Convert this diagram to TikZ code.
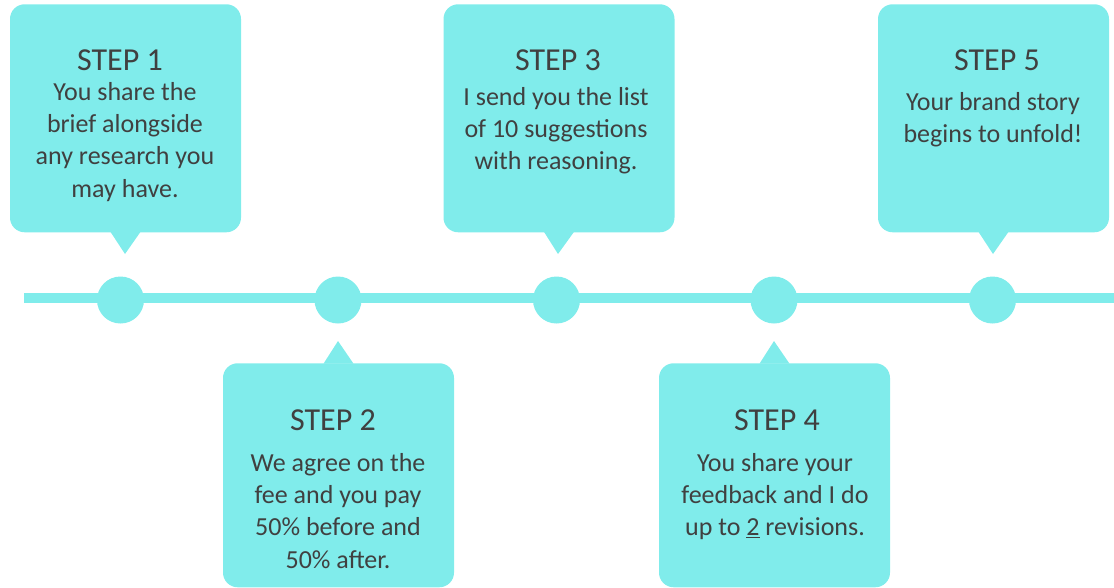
\documentclass[tikz,border=0pt]{standalone}
\usepackage{fontspec}
\setmainfont{Carlito}
\definecolor{aqua}{RGB}{128,236,235}
\definecolor{txt}{RGB}{64,64,64}
\tikzset{
  callout/.style={fill=aqua, rounded corners=11pt, minimum width=173.25pt, minimum height=171pt, inner sep=0pt, anchor=north},
  calloutlow/.style={callout, minimum height=168pt},
  dot/.style={circle, fill=aqua, minimum size=35.25pt, inner sep=0pt},
  title/.style={text=txt, font=\fontsize{24pt}{28pt}\selectfont, inner sep=0pt},
  body/.style={text=txt, font=\fontsize{19.5pt}{24.2pt}\selectfont, align=center, inner sep=0pt, anchor=north},
  tail/.style={fill=aqua},
  timeline/.style={draw=aqua, line width=7.5pt}
}
\begin{document}
\begin{tikzpicture}[x=0.75pt,y=-0.75pt]
\useasboundingbox (0,0) rectangle (1114,587);
% timeline
\coordinate (lstart) at (24,298);
\coordinate (lend) at (1114,298);
\draw[timeline] (lstart) -- (lend);
\node[dot] (d1) at (120.5,300) {};
\node[dot] (d2) at (338,300) {};
\node[dot] (d3) at (556.5,300) {};
\node[dot] (d4) at (774,300) {};
\node[dot] (d5) at (992.5,300) {};
% upper callouts
\node[callout] (b1) at (125.5,4) {};
\node[callout] (b3) at (559,4) {};
\node[callout] (b5) at (993.5,4) {};
% lower callouts
\node[calloutlow] (b2) at (338.5,363) {};
\node[calloutlow] (b4) at (774.5,363) {};
% tails
\coordinate (t1) at (125,254);
\coordinate (t3) at (558,254);
\coordinate (t5) at (993,254);
\coordinate (t2) at (338,341);
\coordinate (t4) at (774,341);
\fill[tail] ([xshift=-11.25pt,yshift=0.5pt]b1.south) -- ([xshift=11.25pt,yshift=0.5pt]b1.south) -- (t1) -- cycle;
\fill[tail] ([xshift=-11.25pt,yshift=0.5pt]b3.south) -- ([xshift=11.25pt,yshift=0.5pt]b3.south) -- (t3) -- cycle;
\fill[tail] ([xshift=-11.25pt,yshift=0.5pt]b5.south) -- ([xshift=11.25pt,yshift=0.5pt]b5.south) -- (t5) -- cycle;
\fill[tail] ([xshift=-11.25pt,yshift=-0.5pt]b2.north) -- ([xshift=11.25pt,yshift=-0.5pt]b2.north) -- (t2) -- cycle;
\fill[tail] ([xshift=-11.25pt,yshift=-0.5pt]b4.north) -- ([xshift=11.25pt,yshift=-0.5pt]b4.north) -- (t4) -- cycle;
% texts
\node[title] (s1) at (120,60) {STEP 1};
\node[body] (x1) at (125,82) {You share the\\brief alongside\\any research you\\may have.};
\node[title] (s3) at (558,60) {STEP 3};
\node[body] (x3) at (556,87) {I send you the list\\of 10 suggestions\\with reasoning.};
\node[title] (s5) at (997,60) {STEP 5};
\node[body] (x5) at (993,92) {Your brand story\\begins to unfold!};
\node[title] (s2) at (333,420) {STEP 2};
\node[body] (x2) at (338,453) {We agree on the\\fee and you pay\\50\% before and\\50\% after.};
\node[title] (s4) at (777,420) {STEP 4};
\node[body] (x4) at (775,453) {You share your\\feedback and I do\\up to \underline{2} revisions.};
\end{tikzpicture}
\end{document}
